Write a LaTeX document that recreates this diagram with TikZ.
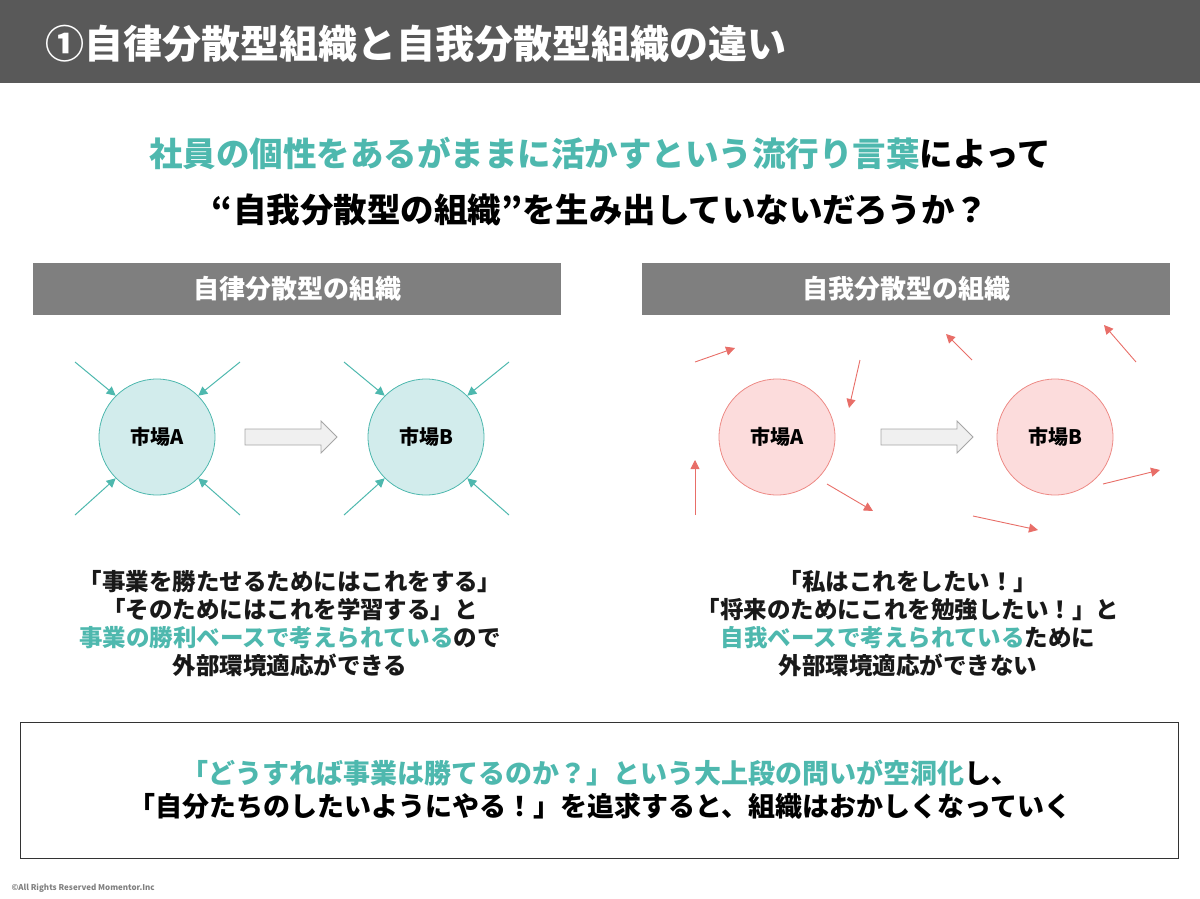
\documentclass[tikz,border=0pt]{standalone}
\usepackage{fontspec}
\setmainfont{Noto Sans CJK JP}
\usetikzlibrary{arrows.meta}
\definecolor{teal1}{RGB}{78,184,174}
\definecolor{tealfill}{RGB}{210,236,236}
\definecolor{red1}{RGB}{232,110,104}
\definecolor{redfill}{RGB}{252,220,220}
\definecolor{hdr}{RGB}{89,89,89}
\definecolor{sub}{RGB}{127,127,127}
\tikzset{
  fs/.style={font=\fontsize{#1}{#1}\selectfont\bfseries},
  market/.style={circle,minimum size=116pt,inner sep=0pt,line width=0.8pt,fs=20},
  mA/.style={market,draw=teal1,fill=tealfill},
  mB/.style={market,draw=red1!80,fill=redfill},
  ta/.style={draw=teal1,line width=1pt,-{Triangle[length=9pt,width=9pt]}},
  ra/.style={draw=red1,line width=0.9pt,-{Triangle[length=9pt,width=9pt]}},
  bigarr/.style={draw=gray!70,fill=gray!12,line width=0.8pt},
  subhdr/.style={fill=sub,text=white,minimum width=528pt,minimum height=52pt,inner sep=0pt,fs=26},
  body/.style={align=center,fs=23.5,text=black!90},
}
\newcommand{\blockarrow}[1]{\draw[bigarr] (#1-46,429) -- (#1+30,429) -- (#1+30,421) -- (#1+46,437) -- (#1+30,453) -- (#1+30,445) -- (#1-46,445) -- cycle;}
\begin{document}
\begin{tikzpicture}[x=1pt,y=-1pt]
\useasboundingbox (0,0) rectangle (1200,899);
\fill[hdr] (0,0) rectangle (1200,83);
\node[anchor=west,text=white,fs=39] (title) at (42,44) {①自律分散型組織と自我分散型組織の違い};
\node[fs=33.5] (s1) at (600,153) {\textcolor{teal1}{社員の個性をあるがままに活かすという流行り言葉}によって};
\node[fs=33.5] (s2) at (600,210) {“自我分散型の組織”を生み出していないだろうか？};
\node[subhdr] (h1) at (297,289) {自律分散型の組織};
\node[subhdr] (h2) at (906,289) {自我分散型の組織};
% left
\node[mA] (la) at (157,437) {市場A};
\node[mA] (lb) at (426,437) {市場B};
\blockarrow{291}
\coordinate (c1) at (75,362); \coordinate (c2) at (240,362);
\coordinate (c3) at (75,515); \coordinate (c4) at (240,515);
\coordinate (c5) at (344,362); \coordinate (c6) at (509,362);
\coordinate (c7) at (344,515); \coordinate (c8) at (509,515);
\draw[ta] (c1) -- (la.135); \draw[ta] (c2) -- (la.45);
\draw[ta] (c3) -- (la.225); \draw[ta] (c4) -- (la.315);
\draw[ta] (c5) -- (lb.135); \draw[ta] (c6) -- (lb.45);
\draw[ta] (c7) -- (lb.225); \draw[ta] (c8) -- (lb.315);
% right
\node[mB] (ra) at (777,437) {市場A};
\node[mB] (rb) at (1055,437) {市場B};
\blockarrow{927}
\foreach \a/\b/\c/\d [count=\i] in {695/362/735/348, 860/360/849/408, 695/515/695/460, 827/484/873/511, 972/360/946/334, 1136/362/1104/325, 1103/484/1160/470, 973/516/1038/530}{
  \coordinate (rs\i) at (\a,\b); \coordinate (re\i) at (\c,\d);
  \draw[ra] (rs\i) -- (re\i);
}
\node[body] (t1) at (290,624) {「事業を勝たせるためにはこれをする」\\[4.5pt]「そのためにはこれを学習する」と\\[4.5pt]\textcolor{teal1}{事業の勝利ベースで考えられている}ので\\[4.5pt]外部環境適応ができる};
\node[body] (t2) at (908,624) {「私はこれをしたい！」\\[4.5pt]「将来のためにこれを勉強したい！」と\\[4.5pt]\textcolor{teal1}{自我ベースで考えられている}ために\\[4.5pt]外部環境適応ができない};
\draw[black!80,line width=1pt] (20,722) rectangle (1178,858);
\node[fs=27] (b1) at (600,773) {\textcolor{teal1}{「どうすれば事業は勝てるのか？」という大上段の問いが空洞化}し、};
\node[fs=27] (b2) at (600,806) {「自分たちのしたいようにやる！」を追求すると、組織はおかしくなっていく};
\node[anchor=west,fs=8,text=gray] (copy) at (8,888) {©All Rights Reserved Momentor.Inc};
\end{tikzpicture}
\end{document}
